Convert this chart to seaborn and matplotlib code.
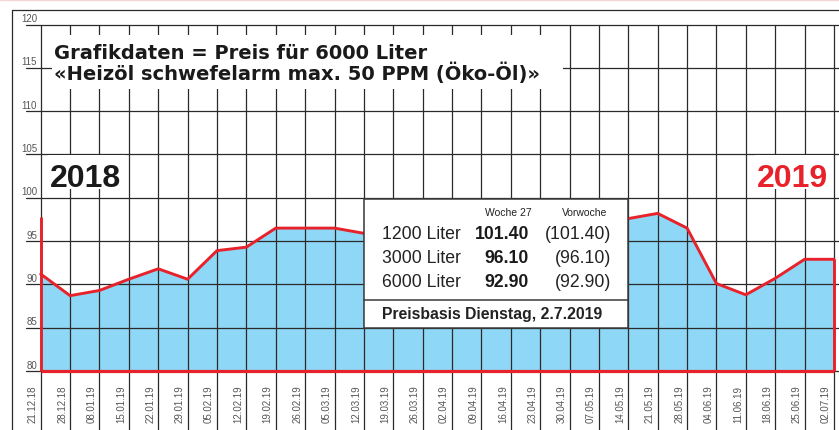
import numpy as np
import pandas as pd
import matplotlib.pyplot as plt
from matplotlib.patches import Rectangle
import seaborn as sns

sns.set_theme(style="white")
plt.rcParams['font.family'] = ['Liberation Sans', 'DejaVu Sans']

# Daten (Preis für 6000 Liter)
dates = ['21.12.18', '28.12.18', '08.01.19', '15.01.19', '22.01.19', '29.01.19',
         '05.02.19', '12.02.19', '19.02.19', '26.02.19', '05.03.19', '12.03.19',
         '19.03.19', '26.03.19', '02.04.19', '09.04.19', '16.04.19', '23.04.19',
         '30.04.19', '07.05.19', '14.05.19', '21.05.19', '28.05.19', '04.06.19',
         '11.06.19', '18.06.19', '25.06.19', '02.07.19']
prices = [91.2, 88.7, 89.3, 90.6, 91.8, 90.6, 93.9, 94.3, 96.5, 96.5, 96.5, 95.9,
          95.6, 95.8, 96.2, 96.6, 97.0, 96.8, 97.0, 97.3, 97.6, 98.2, 96.5, 90.1,
          88.8, 90.7, 92.9, 92.9]
start_marker = 97.8  # roter Strich am Anfang
y_ticks = [80, 85, 90, 95, 100, 105, 110, 115, 120]

title_lines = ['Grafikdaten = Preis für 6000 Liter',
               '«Heizöl schwefelarm max. 50 PPM (Öko-Öl)»']
sizes = ['1200 Liter', '3000 Liter', '6000 Liter']
week_prices = ['101.40', '96.10', '92.90']
prev_prices = ['(101.40)', '(96.10)', '(92.90)']

RED = '#e8222b'
BLUE = '#8ed7f6'
GRID = '#2a2a2a'
GRAY = '#555555'

df = pd.DataFrame({'date': dates, 'price': prices})
df['pos'] = np.arange(len(df))
last = df['pos'].iloc[-1]

# Layout in Pixeln -> Datenkoordinaten
X0, DX = 40.7, 29.38
Y0, DY = 372.0, 8.66
def px_x(p):
    return (p - X0) / DX
def px_y(p):
    return 80 + (Y0 - p) / DY

fig = plt.figure(figsize=(8.39, 4.31), dpi=100)
ax = fig.add_axes([0, 0, 1, 1])

# Rahmen
ax.plot([px_x(12), px_x(839)], [px_y(10.5)] * 2, color=GRID, lw=0.9)
ax.plot([px_x(12)] * 2, [px_y(10.5), px_y(431)], color=GRID, lw=0.9)
ax.axhline(px_y(0.6), color='#f8d5d5', lw=1)

# Raster + Achsenbeschriftung
for v in y_ticks:
    ax.plot([px_x(26), px_x(839)], [v, v], color=GRID, lw=0.9, zorder=2)
    ax.text(px_x(37), v + 0.4, str(v), ha='right', va='baseline',
            fontsize=7, color=GRAY)
for i, d in zip(df['pos'], df['date']):
    ax.plot([i, i], [120, px_y(431)], color=GRID, lw=0.9, zorder=2)
    ax.text(i - 0.27, px_y(423), d, rotation=90, ha='center', va='bottom',
            fontsize=7, color=GRAY)

# Fläche und Linie
ax.fill_between(df['pos'], 80, df['price'], color=BLUE, lw=0, zorder=1)
sns.lineplot(data=df, x='pos', y='price', color=RED, lw=2.1, ax=ax, zorder=4)
ax.plot([0, 0], [80, start_marker], color=RED, lw=2.1, zorder=4, solid_capstyle='butt')
ax.plot([0, last], [80, 80], color=RED, lw=2.3, zorder=4, solid_capstyle='butt')
ax.plot([last, last], [80, prices[-1]], color=RED, lw=2.1, zorder=4, solid_capstyle='butt')

# Titel (ein Textobjekt, zwei Zeilen)
ax.add_patch(Rectangle((px_x(52), px_y(90)), px_x(563) - px_x(52), px_y(36) - px_y(90),
                       facecolor='white', edgecolor='none', zorder=5))
ax.text(px_x(54), px_y(84), '\n'.join(title_lines), ha='left', va='bottom', fontsize=14,
        fontweight='bold', family='DejaVu Sans', color='#1a1a1a', linespacing=0.98,
        zorder=6)

# Jahreszahlen
for label, x_left, col in [('2018', 48, '#1a1a1a'), ('2019', 755, RED)]:
    ax.add_patch(Rectangle((px_x(x_left), px_y(190)), px_x(x_left + 78) - px_x(x_left),
                           px_y(156) - px_y(190), facecolor='white', edgecolor='none', zorder=5))
    ax.text(px_x(x_left + 2), px_y(187), label, ha='left', va='baseline', fontsize=23,
            fontweight='bold', color=col, zorder=6)

# Preisbox
bx0, bx1, by0, by1 = px_x(364), px_x(628), px_y(329), px_y(200)
ax.add_patch(Rectangle((bx0, by0), bx1 - bx0, by1 - by0, facecolor='white',
                       edgecolor='#3a3a3a', lw=1.1, zorder=5))
ax.plot([bx0, bx1], [px_y(301)] * 2, color='#3a3a3a', lw=1.1, zorder=6)
ax.text(px_x(532), px_y(215.7), 'Woche 27', ha='right', va='baseline', fontsize=7.5,
        color='#222222', zorder=6)
ax.text(px_x(607), px_y(215.7), 'Vorwoche', ha='right', va='baseline', fontsize=7.5,
        color='#222222', zorder=6)
for s, w, p, base in zip(sizes, week_prices, prev_prices, [239.3, 262.7, 286.7]):
    ax.text(px_x(382), px_y(base), s, ha='left', va='baseline', fontsize=12.7,
            color='#222222', zorder=6)
    ax.text(px_x(529), px_y(base), w, ha='right', va='baseline', fontsize=12.7,
            fontweight='bold', color='#1a1a1a', zorder=6)
    ax.text(px_x(611), px_y(base), p, ha='right', va='baseline', fontsize=12.7,
            color='#222222', zorder=6)
ax.text(px_x(382), px_y(319), 'Preisbasis Dienstag, 2.7.2019', ha='left', va='baseline',
        fontsize=11.3, fontweight='bold', color='#222222', zorder=6)

ax.set_xlim(px_x(0), px_x(839))
ax.set_ylim(px_y(431), px_y(0))
ax.axis('off')

fig.savefig('out.png', dpi=100)
